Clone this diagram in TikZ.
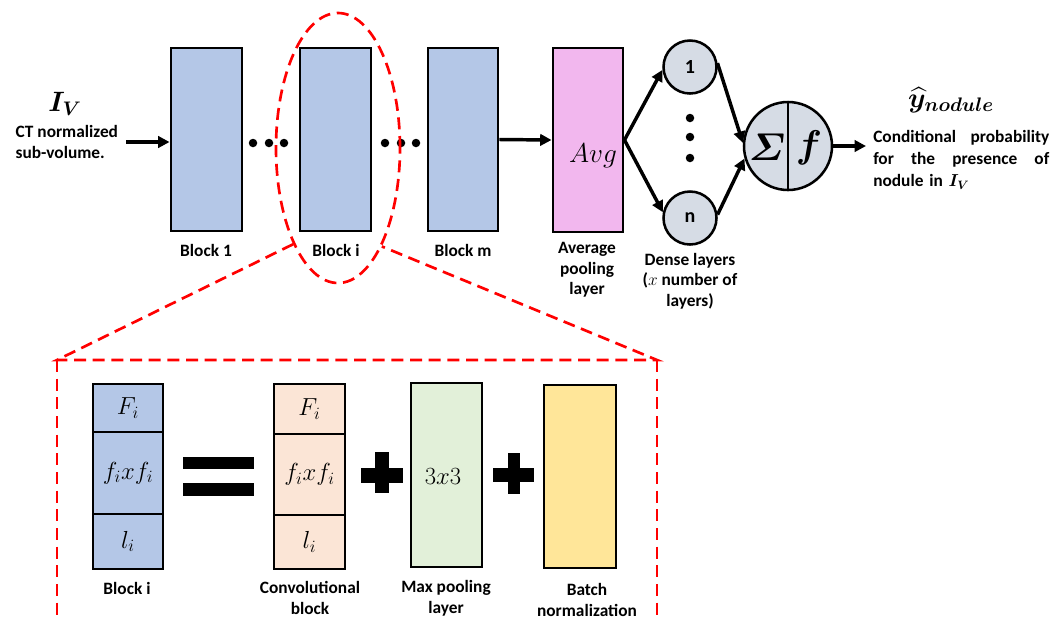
\RequirePackage{fix-cm}
\documentclass[tikz,border=0pt]{standalone}
\usepackage{amsmath,bm}
\usepackage{fontspec}
\setmainfont{Carlito}
\usetikzlibrary{arrows.meta,shapes.geometric}
\definecolor{blkblue}{HTML}{B4C7E7}
\definecolor{avgpink}{HTML}{F2B7EE}
\definecolor{circfill}{HTML}{D6DCE5}
\definecolor{peach}{HTML}{FBE5D6}
\definecolor{mpgreen}{HTML}{E2F0D9}
\definecolor{bnyellow}{HTML}{FFE699}
\definecolor{zred}{HTML}{FF0000}
\begin{document}
\begin{tikzpicture}[x=0.75pt,y=-0.75pt,
  box/.style={draw,line width=2.2pt,inner sep=0pt},
  sz/.style 2 args={minimum width=#1*0.75pt,minimum height=#2*0.75pt},
  lbl/.style={font=\bfseries\fontsize{13}{15.5}\selectfont,align=center},
  mth/.style={font=\fontsize{18.5}{18.5}\selectfont,inner sep=0pt},
  arr/.style={line width=2.6pt,-{Triangle[length=8.5pt,width=8.5pt]}},
  dotn/.style={circle,fill=black,inner sep=0pt,minimum size=8.5*0.75pt},
  neuron/.style={circle,draw,line width=1.9pt,fill=circfill,inner sep=0pt,minimum size=53*0.75pt,font=\bfseries\fontsize{15}{15}\selectfont},
  zoomline/.style={draw=zred,line width=2pt,dash pattern=on 9pt off 5pt}]
\useasboundingbox (0,0) rectangle (1053,619);

% input
\node[inner sep=0pt,font=\fontsize{21}{21}\selectfont] (iv) at (65,104) {$\bm{I_V}$};
\node[lbl,align=left,anchor=west] (ivtxt) at (11,142) {CT normalized\\sub-volume.};
\coordinate (in) at (126,142);

% top blocks
\node[box,sz={71}{183},fill=blkblue] (b1) at (206.5,139.5) {};
\node[box,sz={71}{183},fill=blkblue] (bi) at (335.5,139.5) {};
\node[box,sz={70}{183},fill=blkblue] (bm) at (463,139.5) {};
\node[box,sz={70}{184},fill=avgpink] (avg) at (588,140) {};
\node[mth,font=\fontsize{20.5}{20.5}\selectfont] (avgt) at (593,156) {$Avg$};

\node[lbl] (l1) at (206,250) {Block 1};
\node[lbl] (li) at (336,250) {Block i};
\node[lbl] (lm) at (463,250) {Block m};
\node[lbl] (lavg) at (587,270) {Average\\pooling\\layer};
\node[lbl] (ldense) at (690,281) {Dense layers\\(\mdseries$x$\bfseries{} number of\\layers)};

% dots
\node[dotn] (d1) at (253,143) {};
\node[dotn] (d2) at (269,143) {};
\node[dotn] (d3) at (284,143) {};
\node[dotn] (d4) at (385,143) {};
\node[dotn] (d5) at (401,143) {};
\node[dotn] (d6) at (416,143) {};

% neurons
\node[neuron] (c1) at (690,67) {1};
\node[neuron] (cn) at (690,218) {n};
\node[dotn] (v1) at (690,118) {};
\node[dotn] (v2) at (690,137) {};
\node[dotn] (v3) at (690,158) {};

\node[circle,draw,line width=1.9pt,fill=circfill,inner sep=0pt,minimum size=88*0.75pt] (sig) at (788,146) {};
\draw[line width=1.5pt] (sig.north) -- (sig.south);
\node[inner sep=0pt,font=\fontsize{29}{29}\selectfont] (sigS) at (767,147) {$\bm{\varSigma}$};
\node[inner sep=0pt,font=\fontsize{29}{29}\selectfont] (sigF) at (809,148) {$\bm{f}$};
\coordinate (out) at (866,146);

% output text
\node[inner sep=0pt,font=\fontsize{21}{21}\selectfont] (yhat) at (951,100) {$\bm{\widehat{y}_{nodule}}$};
\node[lbl,align=left,anchor=west,text width=176*0.75pt,inner sep=0pt,font=\bfseries\fontsize{13}{16.5}\selectfont] (desc) at (873,160)
  {Conditional\hfill probability\\for\hfill the\hfill presence\hfill of\\nodule in $\bm{I_V}$};

% arrows
\draw[arr] (in) -- (b1.west |- in);
\draw[arr] (bm.east) -- (avg.west);
\draw[arr] (avg.east) -- (c1.186);
\draw[arr] (avg.east) -- (cn.168);
\draw[arr] (c1.8) -- (sig.176);
\draw[arr] (cn.7) -- (sig.196);
\draw[arr] (sig.east) -- (out);

% zoom ellipse and lines
\node[ellipse,zoomline,inner sep=0pt,sz={124}{270}] (ell) at (338,148) {};
\coordinate (cl) at (57,360);
\coordinate (cr) at (657,360);
\coordinate (bl) at (57,619);
\coordinate (br) at (657,619);
\draw[zoomline] (ell.245) -- (cl) -- (cr) -- (ell.294);
\draw[zoomline] (cl) -- (bl);
\draw[zoomline] (cr) -- (br);

% bottom: block i detail
\node[box,sz={70}{48},fill=blkblue,mth] (bF) at (128,408) {$F_i$};
\node[box,sz={70}{82},fill=blkblue,mth] (bf) at (128,473) {$f_i x f_i$};
\node[box,sz={70}{55},fill=blkblue,mth] (bl2) at (128,541.5) {$l_i$};
\node[lbl] (lbi) at (127,588) {Block i};

% equals
\fill (183,457) rectangle (254,469);
\fill (183,483) rectangle (254,496);

% conv block
\node[box,sz={71}{50},fill=peach,mth] (cF) at (309.5,409) {$F_i$};
\node[box,sz={71}{81},fill=peach,mth] (cf) at (309.5,474.5) {$f_i x f_i$};
\node[box,sz={71}{54},fill=peach,mth] (cl2) at (309.5,542) {$l_i$};
\node[lbl] (lconv) at (310,598) {Convolutional\\block};

% plus 1
\fill (375,452) rectangle (389,493);
\fill (361,468) rectangle (403,483);

% max pooling
\node[box,sz={71}{184},fill=mpgreen] (mp) at (446.5,475) {};
\node[mth] (mpt) at (443,477) {$3x3$};
\node[lbl] (lmp) at (446,598) {Max pooling\\layer};

% plus 2
\fill (508,453) rectangle (520,494);
\fill (493,468) rectangle (534,482);

% batch norm
\node[box,sz={72}{183},fill=bnyellow] (bn) at (580,476.5) {};
\node[lbl] (lbn) at (587,600) {Batch\\normalization};
\end{tikzpicture}
\end{document}
